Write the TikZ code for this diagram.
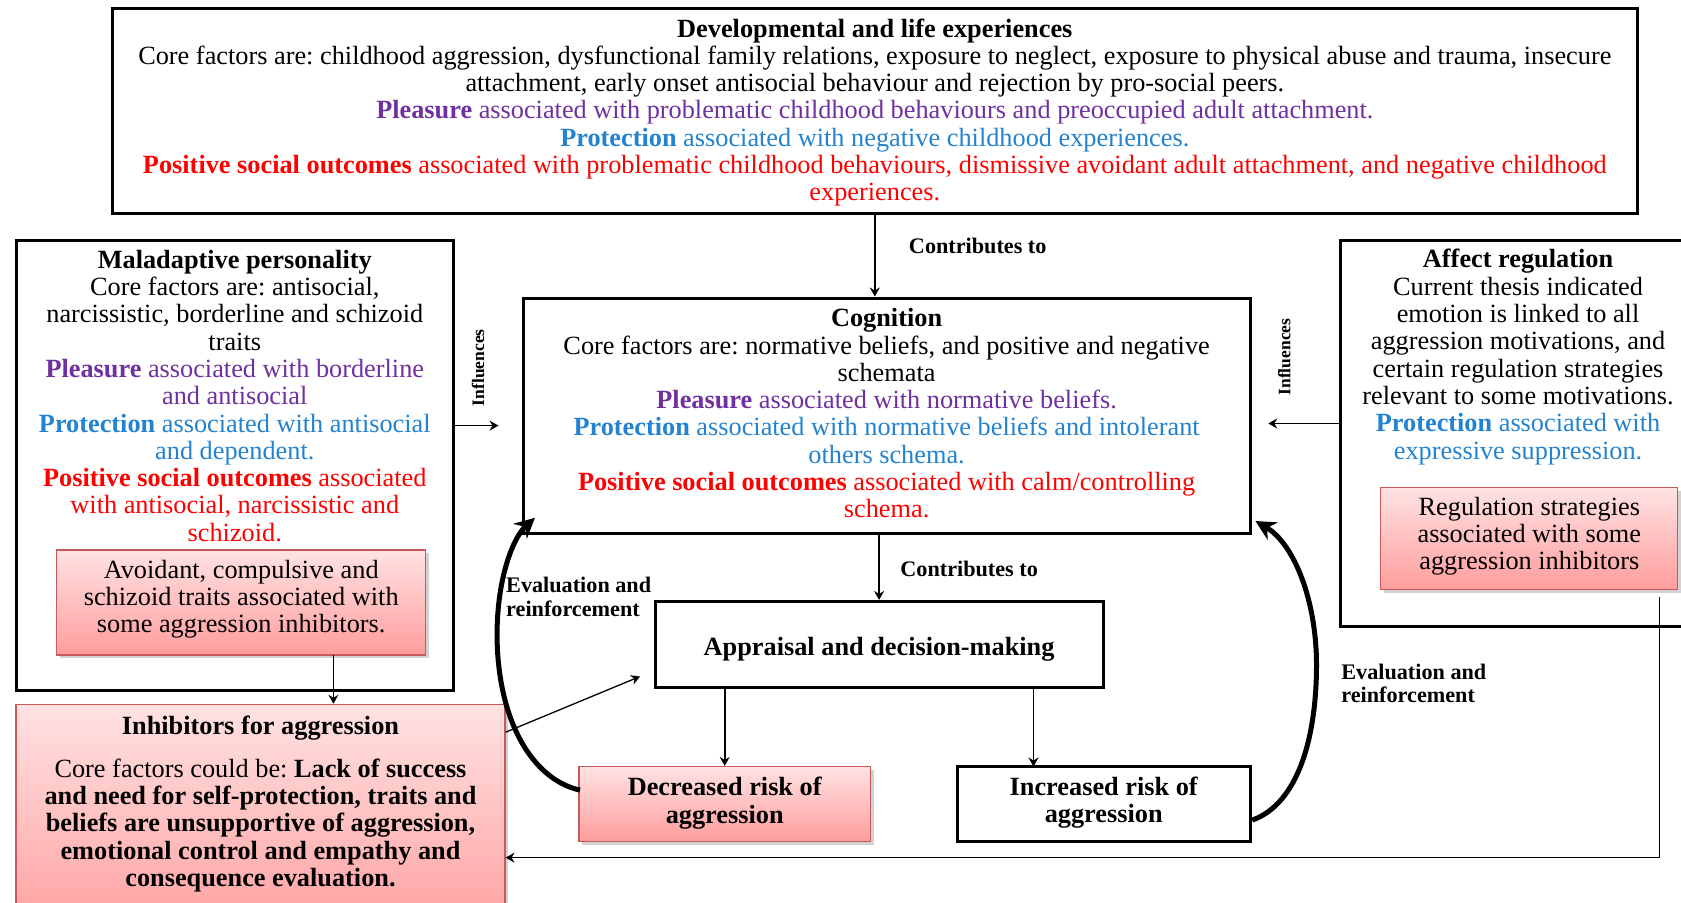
\documentclass[tikz,border=0pt]{standalone}
\usepackage{fontspec}
\setmainfont{Liberation Serif}
\usetikzlibrary{arrows.meta,shadows,fit,calc}

\definecolor{plum}{HTML}{7030A0}
\definecolor{skyblue}{HTML}{2383D0}
\definecolor{alertred}{HTML}{FF0000}
\definecolor{pinktop}{HTML}{FFE2E2}
\definecolor{pinkbot}{HTML}{FF9D9D}
\definecolor{pinkedge}{HTML}{C8585A}

\newcommand{\txtbody}{\fontsize{26.3}{27.3}\selectfont}
\newcommand{\txtinhib}{\fontsize{26.3}{27.3}\selectfont}
\newcommand{\txtlabel}{\fontsize{22.2}{23.5}\selectfont}
\frenchspacing

\begin{document}
\begin{tikzpicture}[x=1.0721pt,y=-1.0721pt,
  boxframe/.style={draw=black,line width=3pt,inner sep=0pt},
  pinkbox/.style={draw=pinkedge,line width=1.2pt,top color=pinktop,bottom color=pinkbot,inner sep=0pt,
    drop shadow={shadow xshift=3pt,shadow yshift=-3pt,opacity=0.35}},
  bodytext/.style={align=center,font=\txtbody,inner sep=0pt,anchor=north},
  boldtext/.style={bodytext,font=\bfseries\txtbody},
  lbl/.style={font=\bfseries\txtlabel,inner sep=0pt},
  arr/.style={line width=1.6pt,-{Stealth[length=9pt,width=10pt,inset=3pt]}},
  evalcurve/.style={line width=5pt,-{Stealth[length=20pt,width=20pt]}}
]
\useasboundingbox (0,0) rectangle (1568,842);
\clip (0,0) rectangle (1568,842);
\fill[white] (0,0) rectangle (1568,842);

% ---------- boxes ----------
\node[boxframe, fit={(105,8) (1527,199)}] (dev) {};
\node[boxframe, fit={(488,278) (1166,498)}] (cog) {};
\node[boxframe, fit={(15,224) (423,644)}] (mal) {};
\node[pinkbox, fit={(53,513) (397,611)}] (malpink) {};
\node[boxframe, fit={(1250,224) (1576,584)}] (aff) {};
\node[pinkbox, fit={(1288,455) (1565,550)}] (affpink) {};
\node[pinkbox, fit={(15,657) (471,880)}] (inhib) {};
\node[boxframe, fit={(611,561) (1029,641)}] (app) {};
\node[pinkbox, fit={(540,715) (812,785)}] (dec) {};
\node[boxframe, fit={(893,715) (1166,785)}] (inc) {};

% ---------- box texts ----------
\node[bodytext] (devtext) at ($(dev.north)+(0,10.5)$) {\textbf{Developmental and life experiences}\\
Core factors are: childhood aggression, dysfunctional family relations, exposure to neglect, exposure to physical abuse and trauma, insecure\\
attachment, early onset antisocial behaviour and rejection by pro-social peers.\\
\textcolor{plum}{\textbf{Pleasure} associated with problematic childhood behaviours and preoccupied adult attachment.}\\
\textcolor{skyblue}{\textbf{Protection} associated with negative childhood experiences.}\\
\textcolor{alertred}{\textbf{Positive social outcomes} associated with problematic childhood behaviours, dismissive avoidant adult attachment, and negative childhood}\\
\textcolor{alertred}{experiences.}};

\node[bodytext] (cogtext) at ($(cog.north)+(0,11)$) {\textbf{Cognition}\\
Core factors are: normative beliefs, and positive and negative\\
schemata\\
\textcolor{plum}{\textbf{Pleasure} associated with normative beliefs.}\\
\textcolor{skyblue}{\textbf{Protection} associated with normative beliefs and intolerant}\\
\textcolor{skyblue}{others schema.}\\
\textcolor{alertred}{\textbf{Positive social outcomes} associated with calm/controlling}\\
\textcolor{alertred}{schema.}};

\node[bodytext] (maltext) at (219,233) {\textbf{Maladaptive personality}\\
Core factors are: antisocial,\\
narcissistic, borderline and schizoid\\
traits\\
\textcolor{plum}{\textbf{Pleasure} associated with borderline}\\
\textcolor{plum}{and antisocial}\\
\textcolor{skyblue}{\textbf{Protection} associated with antisocial}\\
\textcolor{skyblue}{and dependent.}\\
\textcolor{alertred}{\textbf{Positive social outcomes} associated}\\
\textcolor{alertred}{with antisocial, narcissistic and}\\
\textcolor{alertred}{schizoid.}};
\node[bodytext] (malpinktext) at ($(malpink.north)+(0,9.5)$) {Avoidant, compulsive and\\
schizoid traits associated with\\
some aggression inhibitors.};

\node[bodytext] (afftext) at (1416,232.5) {\textbf{Affect regulation}\\
Current thesis indicated\\
emotion is linked to all\\
aggression motivations, and\\
certain regulation strategies\\
relevant to some motivations.\\
\textcolor{skyblue}{\textbf{Protection} associated with}\\
\textcolor{skyblue}{expressive suppression.}};
\node[bodytext] (affpinktext) at ($(affpink.north)+(0,9)$) {Regulation strategies\\
associated with some\\
aggression inhibitors};

\node[boldtext, font=\bfseries\txtinhib] (inhibtitle) at (243,667.5) {Inhibitors for aggression};
\node[bodytext, font=\txtinhib] (inhibtext) at (243,707.5) {Core factors could be: \textbf{Lack of success}\\
\textbf{and need for self-protection, traits and}\\
\textbf{beliefs are unsupportive of aggression,}\\
\textbf{emotional control and empathy and}\\
\textbf{consequence evaluation.}};

\node[boldtext] (apptext) at ($(app.north)+(0,35)$) {Appraisal and decision-making};
\node[boldtext] (dectext) at ($(dec.north)+(0,10.5)$) {Decreased risk of\\ aggression};
\node[boldtext] (inctext) at ($(inc.north)+(0,10.5)$) {Increased risk of\\ aggression};

% ---------- connector labels ----------
\node[lbl] (contrib1) at (912,229) {Contributes to};
\node[lbl] (contrib2) at (904,531) {Contributes to};
\node[lbl, font=\bfseries\fontsize{17.5}{20}\selectfont, rotate=90] (inflL) at (446,343) {Influences};
\node[lbl, font=\bfseries\fontsize{17.5}{20}\selectfont, rotate=90] (inflR) at (1198,333) {Influences};
\node[lbl, align=left, anchor=north west] (evalL) at (472,538.5) {Evaluation and\\ reinforcement};
\node[lbl, align=left, anchor=north west] (evalR) at (1251,619) {Evaluation and\\ reinforcement};

% ---------- connectors ----------
\draw[arr] (dev.south) -- (dev.south |- cog.north);
\draw[arr] (app.north |- cog.south) -- (app.north);
\draw[arr] (dec.north |- app.south) -- (dec.north);
\coordinate (incin) at (964,715);
\draw[arr] (incin |- app.south) -- (incin);

\coordinate (infLend) at (465,397);
\draw[arr] (mal.east |- infLend) -- (infLend);
\coordinate (infRend) at (1183,395);
\draw[arr] (aff.west |- infRend) -- (infRend);

\coordinate (inhdrop) at (311,611);
\draw[arr] (inhdrop) -- (inhdrop |- inhib.north);

\coordinate (inhout) at (474,683);
\coordinate (appin) at (597,631);
\draw[arr, line width=1.3pt] (inhib.east |- inhout) -- (appin);

\coordinate (fbtop) at (1548,557);
\coordinate (fbcorner) at (1548,800);
\draw[arr, line width=1.3pt] (fbtop) -- (fbcorner) -- (inhib.east |- fbcorner);

% ---------- evaluation and reinforcement loops ----------
\coordinate (decback) at (541,737);
\coordinate (cogSW) at (499,483);
\draw[evalcurve] (decback) .. controls (500,728) and (468,680) .. (464,606)
  .. controls (461,545) and (478,502) .. (cogSW);
\coordinate (incback) at (1168,765);
\coordinate (cogSE) at (1171,486);
\draw[evalcurve] (incback) .. controls (1210,750) and (1228,690) .. (1228,620)
  .. controls (1228,560) and (1207,507) .. (cogSE);
\end{tikzpicture}
\end{document}
